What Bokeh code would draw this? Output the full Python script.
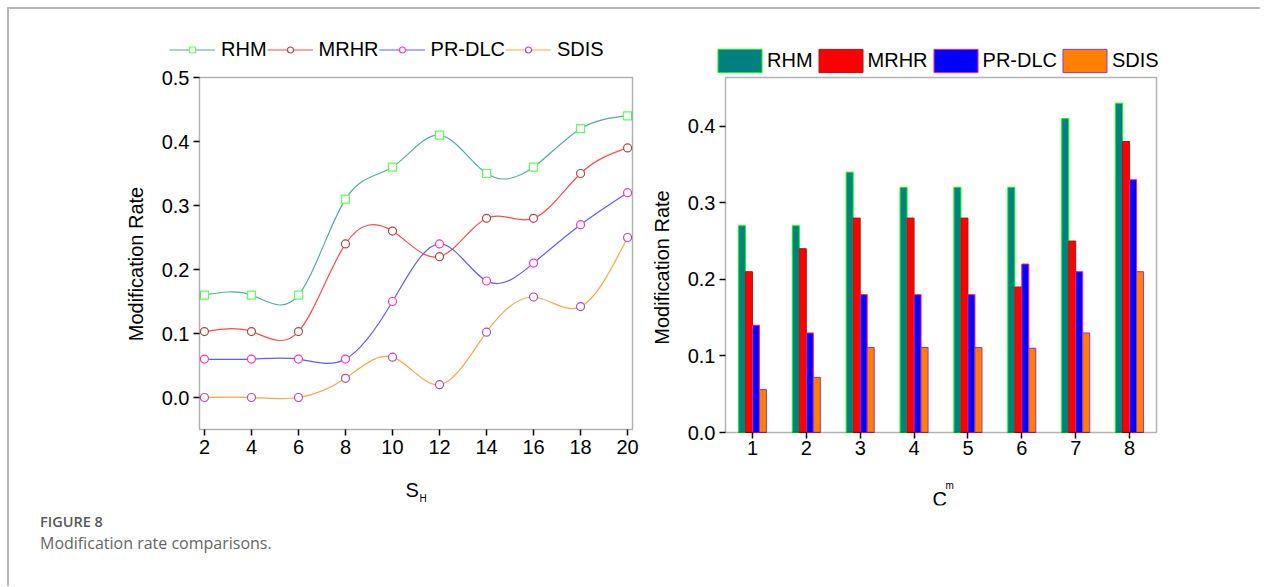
import numpy as np
from bokeh.plotting import figure
from bokeh.models import (ColumnDataSource, Legend, LegendItem, Label, FixedTicker,
                          PrintfTickFormatter, Range1d, Div, BoxAnnotation)
from bokeh.transform import dodge
from bokeh.layouts import row, column
from bokeh.embed import file_html
from bokeh.resources import INLINE

# ---------------- data ----------------
series_names = ["RHM", "MRHR", "PR-DLC", "SDIS"]

sh_values = [2, 4, 6, 8, 10, 12, 14, 16, 18, 20]
line_rhm = [0.16, 0.16, 0.16, 0.31, 0.36, 0.41, 0.35, 0.36, 0.42, 0.44]
line_mrhr = [0.103, 0.103, 0.103, 0.24, 0.26, 0.22, 0.28, 0.28, 0.35, 0.39]
line_prdlc = [0.06, 0.06, 0.06, 0.06, 0.15, 0.24, 0.182, 0.21, 0.27, 0.32]
line_sdis = [0.0, 0.0, 0.0, 0.03, 0.063, 0.02, 0.102, 0.157, 0.142, 0.25]

cm_values = [1, 2, 3, 4, 5, 6, 7, 8]
bar_rhm = [0.27, 0.27, 0.34, 0.32, 0.32, 0.32, 0.41, 0.43]
bar_mrhr = [0.21, 0.24, 0.28, 0.28, 0.28, 0.19, 0.25, 0.38]
bar_prdlc = [0.14, 0.13, 0.18, 0.18, 0.18, 0.22, 0.21, 0.33]
bar_sdis = [0.056, 0.072, 0.111, 0.111, 0.111, 0.11, 0.13, 0.21]

left_yticks = [0.0, 0.1, 0.2, 0.3, 0.4, 0.5]
right_yticks = [0.0, 0.1, 0.2, 0.3, 0.4]

# plot boxes (axis extents)
left_x_box = (1.79, 20.21)
left_y_box = (-0.05, 0.5)
right_x_box = (0.5, 8.5)
right_y_box = (0.0, 0.4636)

FONT = "Liberation Sans"


def spline_segments(xs, ys):
    """Natural cubic spline through the points, expressed as cubic Bezier segments."""
    x = np.asarray(xs, float)
    y = np.asarray(ys, float)
    n = len(x)
    h = np.diff(x)
    A = np.zeros((n, n))
    b = np.zeros(n)
    A[0, 0] = 1.0
    A[-1, -1] = 1.0
    for i in range(1, n - 1):
        A[i, i - 1] = h[i - 1]
        A[i, i] = 2 * (h[i - 1] + h[i])
        A[i, i + 1] = h[i]
        b[i] = 6 * ((y[i + 1] - y[i]) / h[i] - (y[i] - y[i - 1]) / h[i - 1])
    M = np.linalg.solve(A, b)
    slope = np.diff(y) / h
    d0 = slope - h * (2 * M[:-1] + M[1:]) / 6
    d1 = slope + h * (M[:-1] + 2 * M[1:]) / 6
    return dict(x0=x[:-1], y0=y[:-1], x1=x[1:], y1=y[1:],
                cx0=x[:-1] + h / 3, cy0=y[:-1] + d0 * h / 3,
                cx1=x[1:] - h / 3, cy1=y[1:] - d1 * h / 3)


def style_axes(p, xbox, ybox, ylabel_shift):
    p.xgrid.visible = False
    p.ygrid.visible = False
    p.outline_line_color = None
    p.background_fill_color = None
    p.border_fill_color = None
    p.xaxis.fixed_location = ybox[0]
    p.yaxis.fixed_location = xbox[0]
    p.xaxis.bounds = xbox
    # lower bound extended a little so that the rotated axis title sits like the original
    p.yaxis.bounds = (ybox[0] - ylabel_shift, ybox[1])
    for ax in (p.xaxis, p.yaxis):
        ax.axis_line_color = None
        ax.major_tick_line_color = "black"
        ax.major_tick_line_width = 1.5
        ax.major_tick_in = 0
        ax.major_tick_out = 6
        ax.minor_tick_line_color = None
        ax.major_label_text_font = FONT
        ax.major_label_text_font_size = "20px"
        ax.major_label_text_color = "black"
        ax.axis_label_text_font = FONT
        ax.axis_label_text_font_size = "20px"
        ax.axis_label_text_font_style = "normal"
        ax.axis_label_text_color = "black"
    p.add_layout(BoxAnnotation(left=xbox[0], right=xbox[1], bottom=ybox[0], top=ybox[1],
                               fill_alpha=0, line_color="black", line_width=1.5))


def screen_label(text, size, x, y):
    return Label(x=x, y=y, x_units="screen", y_units="screen", text=text,
                 text_font=FONT, text_font_size=size, text_color="black",
                 text_baseline="alphabetic", text_align="left")


# ---------------- left: line chart ----------------
p1 = figure(width=636, height=541, x_range=Range1d(-1.358, 20.763), y_range=Range1d(-0.16875, 0.57344),
            output_backend="svg", toolbar_location=None,
            min_border_left=116, min_border_right=0, min_border_top=21, min_border_bottom=45)
style_axes(p1, left_x_box, left_y_box, 0.033)
p1.xaxis.ticker = FixedTicker(ticks=sh_values)
p1.yaxis.ticker = FixedTicker(ticks=left_yticks)
p1.yaxis.formatter = PrintfTickFormatter(format="%.1f")
p1.yaxis.axis_label = "Modification Rate"
p1.yaxis.axis_label_standoff = 12
p1.yaxis.major_label_standoff = 4
p1.xaxis.major_label_standoff = 4

line_series = [line_rhm, line_mrhr, line_prdlc, line_sdis]
line_colors = ["#52aaa8", "#ff4a4a", "#5c5cff", "#ffa544"]
marker_colors = ["#5cff5c", "#b04848", "#ff33cc", "#b048c4"]
markers = ["square", "circle", "circle", "circle"]

items = []
for name, vals, lc, mc, mk in zip(series_names, line_series, line_colors, marker_colors, markers):
    seg = ColumnDataSource(spline_segments(sh_values, vals))
    br = p1.bezier(x0="x0", y0="y0", x1="x1", y1="y1", cx0="cx0", cy0="cy0", cx1="cx1", cy1="cy1",
                   source=seg, line_color=lc, line_width=1.2)
    sr = p1.scatter(x=sh_values, y=vals, marker=mk, size=8, fill_color="white",
                    line_color=mc, line_width=1.2)
    items.append(LegendItem(label=name, renderers=[br, sr]))

leg1 = Legend(items=items, orientation="horizontal", location=(44, 444),
              glyph_width=46, glyph_height=15, label_height=23, label_standoff=6, spacing=0,
              padding=0, margin=0, border_line_alpha=0, background_fill_alpha=0,
              label_text_font=FONT, label_text_font_size="20px", label_text_color="black")
p1.add_layout(leg1, "center")

p1.add_layout(screen_label("S", "20px", 280, 16))
p1.add_layout(screen_label("H", "10px", 294, 7))

# ---------------- right: bar chart ----------------
p2 = figure(width=700, height=541, x_range=Range1d(-0.89211, 8.85267), y_range=Range1d(-0.09533, 0.52497),
            output_backend="svg", toolbar_location=None,
            min_border_left=90, min_border_right=85, min_border_top=21, min_border_bottom=45,
            margin=(0, 0, 0, -85))
style_axes(p2, right_x_box, right_y_box, 0.033)
p2.xaxis.ticker = FixedTicker(ticks=cm_values)
p2.yaxis.ticker = FixedTicker(ticks=right_yticks)
p2.yaxis.formatter = PrintfTickFormatter(format="%.1f")
p2.yaxis.axis_label = "Modification Rate"
p2.yaxis.axis_label_standoff = 12
p2.yaxis.major_label_standoff = 4
p2.xaxis.major_label_standoff = 2

bar_src = ColumnDataSource(dict(x=cm_values, rhm=bar_rhm, mrhr=bar_mrhr, prdlc=bar_prdlc, sdis=bar_sdis))
bar_cols = ["rhm", "mrhr", "prdlc", "sdis"]
bar_fill = ["#008080", "#ff0000", "#0000ff", "#ff8000"]
bar_line = ["#00ff00", "#a01818", "#ff1493", "#9932cc"]
offsets = [-0.195, -0.065, 0.065, 0.195]

bitems = []
for name, col, fc, lc, off in zip(series_names, bar_cols, bar_fill, bar_line, offsets):
    r = p2.vbar(x=dodge("x", off), top=col, bottom=0, width=0.13, source=bar_src,
                fill_color=fc, line_color=lc, line_width=1)
    bitems.append(LegendItem(label=name, renderers=[r]))

leg2 = Legend(items=bitems, orientation="horizontal", location=(62, 430),
              glyph_width=55, glyph_height=29, label_height=23, label_standoff=0, spacing=0,
              padding=0, margin=0, border_line_alpha=0, background_fill_alpha=0,
              label_text_font=FONT, label_text_font_size="20px", label_text_color="black")
p2.add_layout(leg2, "center")

p2.add_layout(screen_label("C", "20px", 282, 7))
p2.add_layout(screen_label("m", "10px", 295, 20))

caption = Div(
    text=('<div style="font-family:\'Open Sans\';font-size:14.5px;font-weight:600;'
          'color:#585858;line-height:19px;white-space:nowrap">FIGURE 8</div>'
          '<div style="font-family:\'Open Sans\';font-size:16px;color:#666666;'
          'line-height:24px;white-space:nowrap">Modification rate comparisons.</div>'),
    width=600, height=74, margin=(-38, 0, 0, 31))

layout = column(row(p1, p2), caption, margin=(7, 0, 0, 7),
                styles={"border-top": "2px solid #b8b8b8", "border-left": "2px solid #b8b8b8"})

open("out.html", "w").write(file_html(layout, INLINE))
